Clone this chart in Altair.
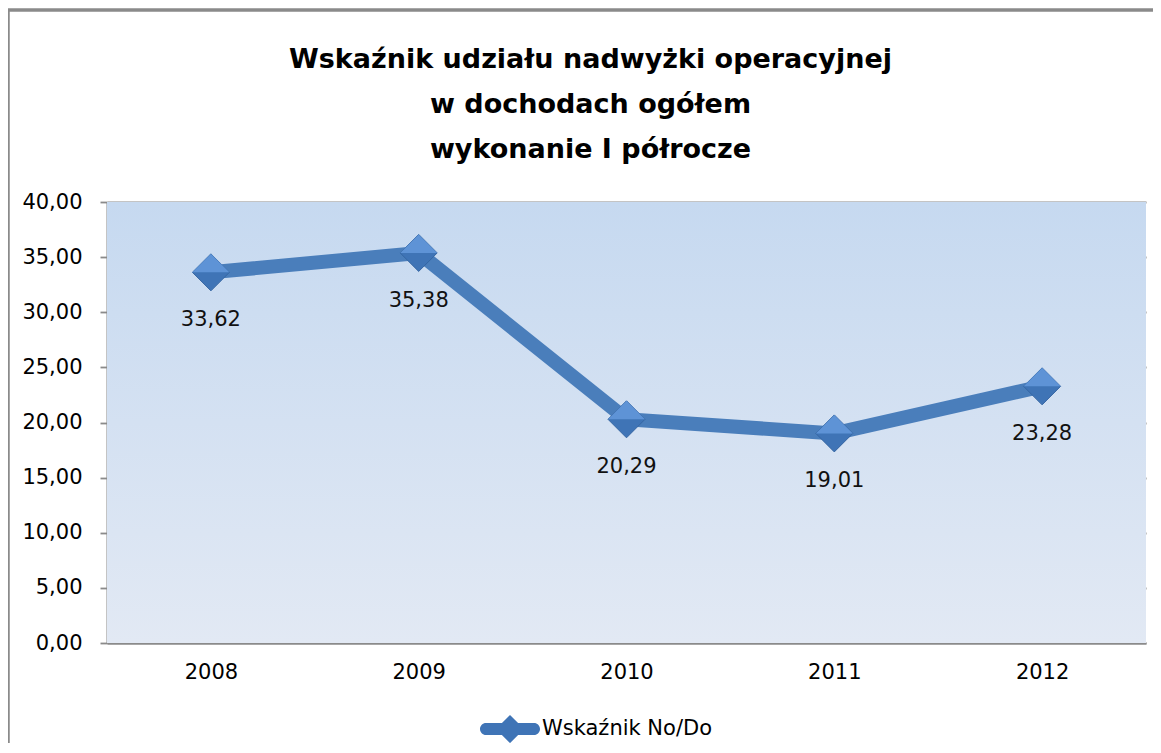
import altair as alt
import pandas as pd

years = ["2008", "2009", "2010", "2011", "2012"]
values = [33.62, 35.38, 20.29, 19.01, 23.28]
series_name = "Wskaźnik No/Do"
title_lines = [
    "Wskaźnik udziału nadwyżki operacyjnej",
    "w dochodach ogółem",
    "wykonanie I półrocze",
]

df = pd.DataFrame({"rok": years, "wartosc": values, "seria": [series_name] * len(years)})

FONT = "DejaVu Sans"
W, H = 1039, 441
LINE_COLOR = "#4a7ebb"
GRAY = "#8a8a8a"

x_enc = alt.X("rok:O", sort=years, scale=alt.Scale(type="point", padding=0.5),
              axis=alt.Axis(title=None, labelAngle=0, ticks=False, labelPadding=18,
                            labelFontSize=21, labelFont=FONT, labelColor="#000000",
                            domainColor=GRAY, domainWidth=2, grid=False))
y_enc = alt.Y("wartosc:Q", scale=alt.Scale(domain=[0, 40], nice=False),
              axis=alt.Axis(title=None, values=[0, 5, 10, 15, 20, 25, 30, 35, 40],
                            labelExpr="replace(format(datum.value, '.2f'), '.', ',')",
                            labelFontSize=21, labelFont=FONT, labelColor="#000000",
                            labelPadding=18, tickSize=7, tickColor=GRAY, tickWidth=1.8,
                            domainColor=GRAY, domainWidth=2,
                            grid=True, gridColor=GRAY, gridWidth=1.8))

base = alt.Chart(df)

bg = alt.Chart(pd.DataFrame({"a": [0]})).mark_rect(
    strokeWidth=0,
    fill=alt.LinearGradient(gradient="linear", x1=0, y1=0, x2=0, y2=1,
                            stops=[alt.GradientStop(color="#c6d9f0", offset=0),
                                   alt.GradientStop(color="#e2e9f4", offset=1)])
).encode(x=alt.value(0), x2=alt.value(W), y=alt.value(0), y2=alt.value(H))

line = base.mark_line(color=LINE_COLOR, strokeWidth=14, strokeCap="round", strokeJoin="round").encode(
    x=x_enc, y=y_enc)

diamond = base.mark_point(shape="diamond", filled=True, size=1369, opacity=1,
                          stroke="#3566a3", strokeWidth=1).encode(
    x=alt.X("rok:O", sort=years), y="wartosc:Q",
    color=alt.Color("seria:N", scale=alt.Scale(range=["#3f74b6"]),
                    legend=alt.Legend(title=None, orient="none", legendX=373, legendY=497,
                                      symbolType="M-0.8,-0.2L0.8,-0.2A0.2,0.2 0 0 1 0.8,0.2L-0.8,0.2A0.2,0.2 0 0 1 -0.8,-0.2ZM-0.47,0L0,-0.47L0.47,0L0,0.47Z",
                                      symbolSize=3600, symbolStrokeWidth=0,
                                      symbolFillColor=LINE_COLOR, labelFontSize=21,
                                      labelFont=FONT, labelColor="#000000", labelOffset=2,
                                      labelLimit=0, padding=0)))

highlight = base.mark_point(shape="M-1,0L0,-1L1,0Z", filled=True, size=1369, opacity=1,
                            color="#5e93d6").encode(x=alt.X("rok:O", sort=years), y="wartosc:Q")

labels = base.mark_text(dy=48, fontSize=21, font=FONT, color="#111111").transform_calculate(
    lbl="replace(format(datum.wartosc, '.2f'), '.', ',')"
).encode(x=alt.X("rok:O", sort=years), y="wartosc:Q", text="lbl:N")

frame_left = alt.Chart(df).mark_rule(color=GRAY, strokeWidth=2.5).encode(
    x=alt.value(-99), y=alt.value(-192), y2=alt.value(550))
frame_top = alt.Chart(df).mark_rule(color=GRAY, strokeWidth=2.5).encode(
    x=alt.value(-99), x2=alt.value(1050), y=alt.value(-192))

chart = alt.layer(bg, line, diamond, highlight, labels, frame_left, frame_top).properties(
    width=W, height=H,
    autosize=alt.AutoSizeParams(type="none"),
    padding={"left": 99, "top": 194, "right": 7, "bottom": 100},
    background="#ffffff",
    title=alt.TitleParams(text=title_lines, fontSize=27, fontWeight="bold", font=FONT,
                          color="#000000", lineHeight=45, anchor="middle", frame="group",
                          dx=-36, offset=-155),
).configure_view(strokeWidth=0, stroke="transparent")

chart.save("out.html", embed_options={"renderer": "svg", "actions": False})
